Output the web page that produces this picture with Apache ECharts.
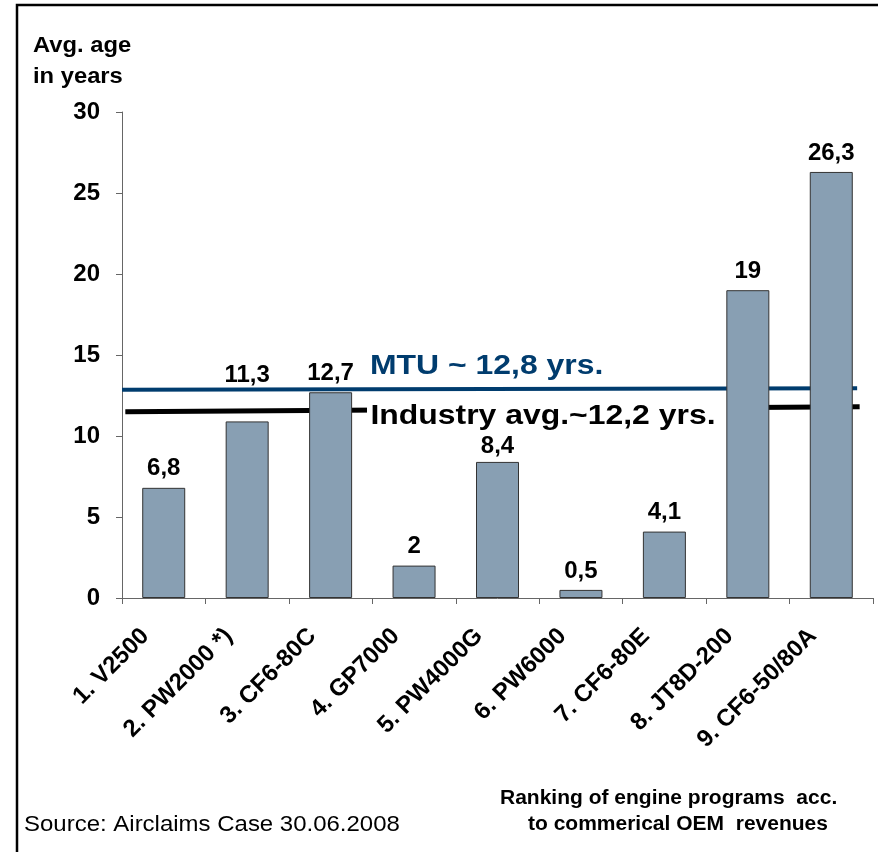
<!DOCTYPE html>
<html>
<head>
<meta charset="utf-8">
<script src="https://cdn.jsdelivr.net/npm/echarts@6/dist/echarts.min.js"></script>
<style>
  html, body { margin: 0; padding: 0; background: #fff; }
  #chart { width: 878px; height: 852px; }
</style>
</head>
<body>
<div id="chart"></div>
<script>
// engine programs, ranked
var engines = ['1. V2500', '2. PW2000 *)', '3. CF6-80C', '4. GP7000', '5. PW4000G',
  '6. PW6000', '7. CF6-80E', '8. JT8D-200', '9. CF6-50/80A']
// bar heights as drawn
var avgAge = [6.8, 10.9, 12.7, 2, 8.4, 0.5, 4.1, 19, 26.3]
// printed value labels
var ageLabels = ['6,8', '11,3', '12,7', '2', '8,4', '0,5', '4,1', '19', '26,3']
// reference lines: [x, y] in category units
var mtuLine = [[0, 12.85], [8.81, 12.95]]
var industryLine = [[0.04, 11.5], [8.84, 11.8]]
var yTicks = { min: 0, max: 30, interval: 5 }

// extra lift of some labels above their bar (px)
var labelLift = { 1: 27, 4: -3 }

var chart = echarts.init(document.getElementById('chart'))
var font = 'Liberation Sans, Arial, sans-serif'

chart.setOption({
  animation: false,
  grid: { left: 122, right: 5, top: 112, bottom: 254 },
  xAxis: [
    {
      type: 'category',
      data: engines,
      axisLine: { lineStyle: { color: '#666', width: 1 } },
      axisTick: { show: true, length: 6, lineStyle: { color: '#666' } },
      axisLabel: {
        rotate: 45,
        interval: 0,
        margin: 16,
        padding: [0, 26, 0, 0],
        color: '#000',
        fontFamily: font,
        fontWeight: 'bold',
        fontSize: 24
      }
    },
    {
      type: 'value',
      min: 0,
      max: 9,
      show: false
    }
  ],
  yAxis: {
    type: 'value',
    min: yTicks.min,
    max: yTicks.max,
    interval: yTicks.interval,
    axisLine: { show: true, lineStyle: { color: '#666', width: 1 } },
    axisTick: { show: true, length: 6, lineStyle: { color: '#666' } },
    splitLine: { show: false },
    axisLabel: {
      margin: 22,
      color: '#000',
      fontFamily: font,
      fontWeight: 'bold',
      fontSize: 24
    }
  },
  series: [
    {
      type: 'line',
      xAxisIndex: 1,
      data: mtuLine,
      symbol: 'none',
      z: 2,
      lineStyle: { color: '#003c6e', width: 4 }
    },
    {
      type: 'line',
      xAxisIndex: 1,
      data: industryLine,
      symbol: 'none',
      z: 2,
      lineStyle: { color: '#000', width: 5 }
    },
    {
      type: 'bar',
      xAxisIndex: 0,
      barWidth: 43,
      z: 5,
      itemStyle: { color: '#889fb3', borderColor: '#333', borderWidth: 1 },
      data: avgAge.map(function (v, i) {
        return {
          value: v,
          label: { distance: 7 + (labelLift[i] || 0) }
        }
      }),
      label: {
        show: true,
        position: 'top',
        color: '#000',
        fontFamily: font,
        fontWeight: 'bold',
        fontSize: 24,
        formatter: function (p) { return ageLabels[p.dataIndex] }
      }
    }
  ],
  graphic: [
    {
      type: 'rect',
      shape: { x: 17, y: 5, width: 900, height: 900 },
      style: { fill: 'none', stroke: '#000', lineWidth: 2.5 }
    },
    {
      type: 'text', x: 33, y: 46, scaleX: 1.08,
      style: { text: 'Avg. age', font: 'bold 22px ' + font, fill: '#000', verticalAlign: 'middle' }
    },
    {
      type: 'text', x: 33, y: 77, scaleX: 1.08,
      style: { text: 'in years', font: 'bold 22px ' + font, fill: '#000', verticalAlign: 'middle' }
    },
    {
      type: 'text', x: 370, y: 366, z: 10, scaleX: 1.14,
      style: { text: 'MTU ~ 12,8 yrs.', font: 'bold 28px ' + font, fill: '#003c6e', verticalAlign: 'middle' }
    },
    {
      // sits over the industry line, under the bars
      type: 'text', x: 367, y: 416, z: 3, scaleX: 1.14,
      style: {
        text: 'Industry avg.~12,2 yrs.', font: 'bold 28px ' + font, fill: '#000', verticalAlign: 'middle',
        backgroundColor: '#fff', padding: [0, 14, 0, 3]
      }
    },
    {
      type: 'text', x: 24, y: 825, scaleX: 1.09,
      style: { text: 'Source: Airclaims Case 30.06.2008', font: '22px ' + font, fill: '#000', verticalAlign: 'middle' }
    },
    {
      type: 'text', x: 500, y: 798, scaleX: 1.05,
      style: { text: 'Ranking of engine programs  acc.', font: 'bold 20px ' + font, fill: '#000', verticalAlign: 'middle' }
    },
    {
      type: 'text', x: 528, y: 824, scaleX: 1.05,
      style: { text: 'to commerical OEM  revenues', font: 'bold 20px ' + font, fill: '#000', verticalAlign: 'middle' }
    }
  ]
})
</script>
</body>
</html>
